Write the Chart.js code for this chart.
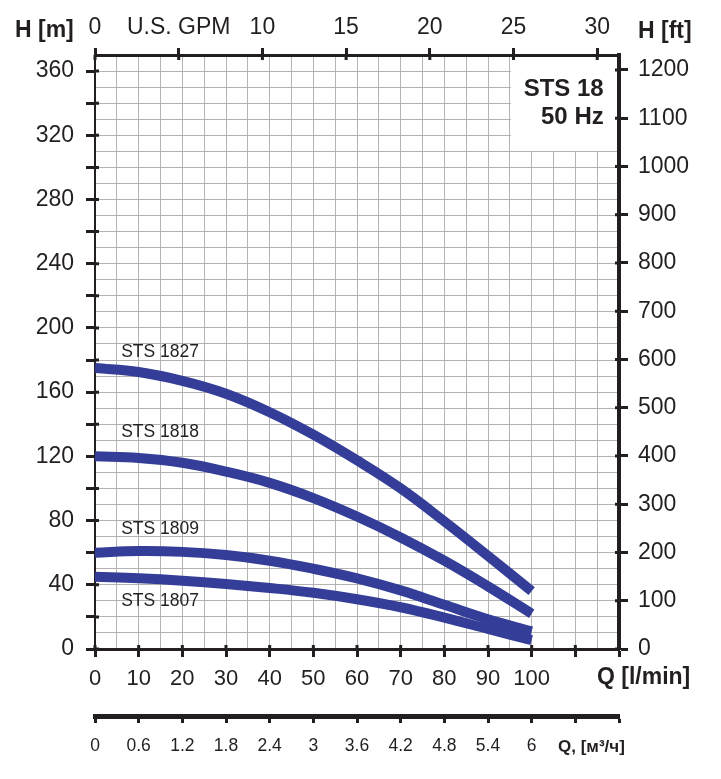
<!DOCTYPE html>
<html>
<head>
<meta charset="utf-8">
<script src="https://cdn.jsdelivr.net/npm/chart.js@4.4.1/dist/chart.umd.min.js"></script>
<style>
  html, body { margin: 0; padding: 0; background: #fff; }
  #wrap { position: relative; width: 721px; height: 779px; }
</style>
</head>
<body>
<div id="wrap"><canvas id="chart"></canvas></div>
<script>
  // STS 18, 50 Hz - head curves
  const flowLmin = [0, 10, 20, 30, 40, 50, 60, 70, 80, 90, 100];
  const sts1827 = [175, 172.5, 167, 159, 147.5, 133.5, 117.5, 100, 79.5, 58, 36];
  const sts1818 = [120, 119, 116, 110.5, 103.5, 94, 82.5, 69.5, 55, 39, 22];
  const sts1809 = [60, 61, 60.5, 58.5, 55, 50, 44, 36.5, 27.5, 18.5, 11];
  const sts1807 = [45, 44, 42.5, 40.5, 38, 35, 31, 26, 19.5, 12.5, 5.5];
  const seriesNames = ['STS 1827', 'STS 1818', 'STS 1809', 'STS 1807'];

  // axis ticks
  const lminTickLabels = ['0', '10', '20', '30', '40', '50', '60', '70', '80', '90', '100', '', ''];
  const m3hTickLabels = ['0', '0.6', '1.2', '1.8', '2.4', '3', '3.6', '4.2', '4.8', '5.4', '6', '', ''];
  const gpmTickLabels = ['0', 'U.S. GPM', '10', '15', '20', '25', '30'];
  const headMLabels = [0, 40, 80, 120, 160, 200, 240, 280, 320, 360];
  const headFtLabels = [0, 100, 200, 300, 400, 500, 600, 700, 800, 900, 1000, 1100, 1200];

  const INK = '#231f20';
  const GRID = '#b3b3b3';
  const CURVE = '#343e98';
  const FONT = "'Liberation Sans', Arial, sans-serif";

  function toPoints(ys) {
    return ys.map((v, i) => ({ x: flowLmin[i], y: v }));
  }

  function curve(label, ys) {
    return {
      label: label,
      data: toPoints(ys),
      borderColor: CURVE,
      borderWidth: 10,
      pointRadius: 0,
      fill: false,
      tension: 0.4
    };
  }

  // where the curve names sit, in chart units (l/min, m)
  const nameAnchors = [[6, 185], [6, 135], [6, 74.5], [6, 29.5]];

  const sheetPlugin = {
    id: 'sheet',
    beforeDatasetsDraw(chart) {
      const { ctx, scales } = chart;
      const x = scales.x, y = scales.y, x2 = scales.x2, y2 = scales.y2;

      // blank corner holding the model name
      const l = x.getPixelForValue(95), r = x.getPixelForValue(120);
      const t = y.getPixelForValue(370), b = y.getPixelForValue(310);
      ctx.save();
      ctx.fillStyle = '#fff';
      ctx.fillRect(l + 1, t + 2, r - l - 3, b - t - 2.5);

      // tick stubs poking into the plot
      ctx.strokeStyle = INK;
      ctx.lineWidth = 3;
      ctx.beginPath();
      y.ticks.forEach(tk => {
        if (tk.value % 20 !== 0) return;
        const py = y.getPixelForValue(tk.value);
        ctx.moveTo(x.left, py); ctx.lineTo(x.left + 4, py);
      });
      y2.ticks.forEach(tk => {
        const py = y2.getPixelForValue(tk.value);
        ctx.moveTo(x.right - 4, py); ctx.lineTo(x.right, py);
      });
      x2.ticks.forEach(tk => {
        const px = x2.getPixelForValue(tk.value);
        ctx.moveTo(px, y.top); ctx.lineTo(px, y.top + 5);
      });
      x.ticks.forEach(tk => {
        if (tk.value % 10 !== 0) return;
        const px = x.getPixelForValue(tk.value);
        ctx.moveTo(px, y.bottom - 4); ctx.lineTo(px, y.bottom);
      });
      ctx.stroke();

      // model name
      ctx.fillStyle = INK;
      ctx.textAlign = 'right';
      ctx.textBaseline = 'middle';
      ctx.font = 'bold 24px ' + FONT;
      ctx.fillText('STS 18', x.getPixelForValue(116.5), y.getPixelForValue(348.5));
      ctx.fillText('50 Hz', x.getPixelForValue(116.5), y.getPixelForValue(331));

      // curve names
      ctx.textAlign = 'left';
      ctx.font = '17.5px ' + FONT;
      seriesNames.forEach((n, i) => {
        ctx.fillText(n, x.getPixelForValue(nameAnchors[i][0]), y.getPixelForValue(nameAnchors[i][1]));
      });
      ctx.restore();
    },
    afterDraw(chart) {
      const ctx = chart.ctx;
      ctx.save();
      ctx.fillStyle = INK;
      ctx.textBaseline = 'middle';
      ctx.textAlign = 'left';
      ctx.font = 'bold 23px ' + FONT;
      ctx.fillText('H [m]', 15, 31);
      ctx.fillText('H [ft]', 638, 32);
      ctx.fillText('Q [l/min]', 597, 678);
      ctx.font = 'bold 17px ' + FONT;
      ctx.fillText('Q, [м³/ч]', 558, 747);
      ctx.restore();
    }
  };

  const tickFont = size => ({ family: FONT, size: size });

  new Chart(document.getElementById('chart'), {
    type: 'line',
    data: {
      datasets: [
        curve(seriesNames[0], sts1827),
        curve(seriesNames[1], sts1818),
        curve(seriesNames[2], sts1809),
        curve(seriesNames[3], sts1807)
      ]
    },
    options: {
      responsive: true,
      maintainAspectRatio: false,
      animation: false,
      events: [],
      layout: { padding: 0 },
      plugins: { legend: { display: false }, tooltip: { enabled: false } },
      scales: {
        x: {
          type: 'linear', position: 'bottom', weight: 0,
          min: 0, max: 120,
          afterFit: s => { s.height = 67; },
          grid: {
            color: GRID, lineWidth: 1,
            tickColor: c => (c.tick && c.tick.value % 10 === 0) ? INK : 'rgba(0,0,0,0)',
            tickLength: 8, tickWidth: 3
          },
          border: { color: INK, width: 3 },
          ticks: {
            stepSize: 5, autoSkip: false, maxRotation: 0, padding: 9,
            color: INK, font: tickFont(22),
            callback: v => v % 10 === 0 ? lminTickLabels[v / 10] : ''
          }
        },
        x3: {
          type: 'linear', position: 'bottom', weight: 1,
          min: 0, max: 120,
          afterFit: s => { s.height = 63; },
          grid: { drawOnChartArea: false, tickColor: INK, tickLength: 7, tickWidth: 3 },
          border: { color: INK, width: 5 },
          ticks: {
            stepSize: 10, autoSkip: false, maxRotation: 0, padding: 13,
            color: INK, font: tickFont(17.5),
            callback: v => m3hTickLabels[v / 10]
          }
        },
        x2: {
          type: 'linear', position: 'top',
          min: 0, max: 31.3,
          afterFit: s => { s.height = 55; },
          grid: { drawOnChartArea: false, tickColor: INK, tickLength: 7, tickWidth: 3 },
          border: { color: INK, width: 3 },
          ticks: {
            stepSize: 5, includeBounds: false, autoSkip: false, maxRotation: 0, padding: 7,
            color: INK, font: tickFont(23),
            callback: (v, i) => gpmTickLabels[i]
          }
        },
        y: {
          type: 'linear', position: 'left',
          min: 0, max: 370,
          afterFit: s => { s.width = 95; },
          grid: {
            color: GRID, lineWidth: 1,
            tickColor: c => (c.tick && c.tick.value % 20 === 0) ? INK : 'rgba(0,0,0,0)',
            tickLength: 9, tickWidth: 3
          },
          border: { color: INK, width: 2 },
          ticks: {
            stepSize: 10, autoSkip: false, padding: 12,
            color: INK, font: tickFont(23),
            callback: v => headMLabels.includes(v) ? String(v) : ''
          }
        },
        y2: {
          type: 'linear', position: 'right',
          min: 0, max: 1231,
          afterFit: s => { s.width = 102; },
          grid: { drawOnChartArea: false, tickColor: INK, tickLength: 9, tickWidth: 3 },
          border: { color: INK, width: 4 },
          ticks: {
            stepSize: 100, includeBounds: false, autoSkip: false, padding: 10,
            color: INK, font: tickFont(23),
            callback: v => headFtLabels.includes(v) ? String(v) : ''
          }
        }
      }
    },
    plugins: [sheetPlugin]
  });
</script>
</body>
</html>
